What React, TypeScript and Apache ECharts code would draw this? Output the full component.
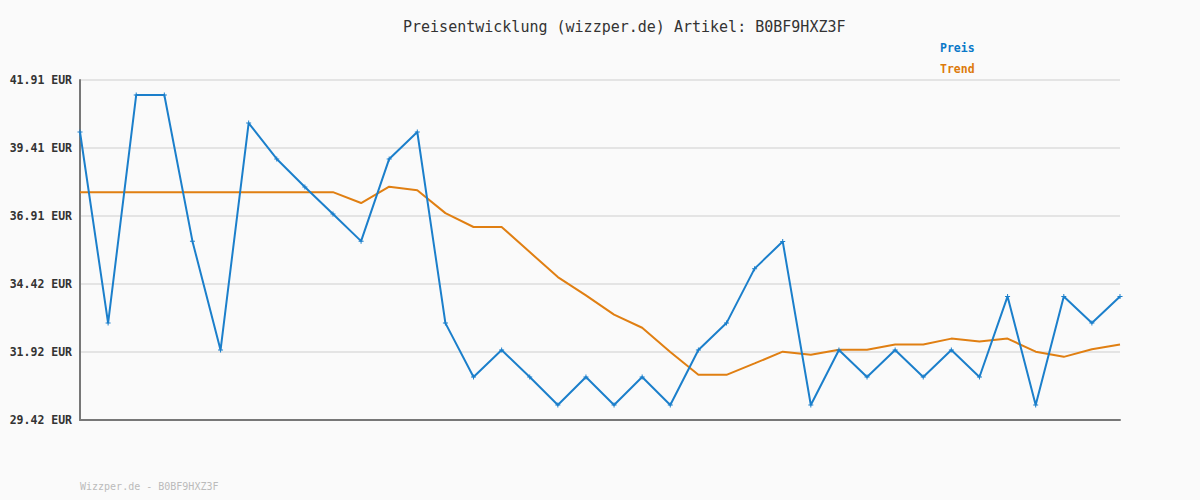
import React, { useEffect, useRef } from "react";
import * as echarts from "echarts";

const titleText = "Preisentwicklung (wizzper.de) Artikel: B0BF9HXZ3F";
const footerText = "Wizzper.de - B0BF9HXZ3F";
const seriesNames = ["Preis", "Trend"];
const axisMin = 29.42;
const axisMax = 41.91;
const tickCount = 5;

const preis = [
  40.0, 32.98, 41.36, 41.36, 35.99, 31.99, 40.33, 39.01, 37.98, 36.99,
  35.99, 39.01, 40.0, 32.98, 31.0, 31.99, 31.0, 29.97, 31.0, 29.97,
  31.0, 29.97, 31.99, 32.98, 34.98, 35.98, 29.97, 31.99, 31.0, 31.99,
  31.0, 31.99, 31.0, 33.96, 29.97, 33.96, 32.98, 33.96,
];

const trend = [
  37.79, 37.79, 37.79, 37.79, 37.79, 37.79, 37.79, 37.79, 37.79, 37.79,
  37.39, 37.99, 37.86, 37.02, 36.51, 36.51, 35.59, 34.67, 34.0, 33.29,
  32.81, 31.92, 31.08, 31.08, 31.5, 31.93, 31.82, 32.0, 32.0, 32.19,
  32.19, 32.41, 32.3, 32.41, 31.93, 31.74, 32.02, 32.19,
];

const categories = preis.map((_, i) => String(i + 1));

const MONO = "'DejaVu Sans Mono', monospace";
const BLUE = "#1b7fcb";
const ORANGE = "#e07f12";

export default function App() {
  const ref = useRef<HTMLDivElement>(null);

  useEffect(() => {
    if (!ref.current) return;
    const chart = echarts.init(ref.current, undefined, { renderer: "svg" });
    const span = axisMax - axisMin;
    const interval = span / tickCount;
    const shift = (arr: number[]) => arr.map((v) => +(v - axisMin).toFixed(4));

    chart.setOption({
      animation: false,
      backgroundColor: "#fafafa",
      title: {
        text: titleText,
        left: 403,
        top: 19,
        padding: 0,
        textStyle: {
          fontFamily: MONO,
          fontSize: 15,
          fontWeight: "normal",
          color: "#333333",
        },
      },
      legend: {
        orient: "vertical",
        left: 935,
        top: 41,
        padding: 0,
        icon: "none",
        itemWidth: 0,
        itemHeight: 14,
        itemGap: 8,
        selectedMode: false,
        textStyle: {
          fontFamily: MONO,
          fontSize: 11.5,
          fontWeight: "bold",
          padding: 0,
        },
        data: [
          { name: seriesNames[0], textStyle: { color: "#0a78c8" } },
          { name: seriesNames[1], textStyle: { color: "#dd7a0c" } },
        ],
      },
      grid: { left: 80, right: 80, top: 80, bottom: 80, containLabel: false },
      xAxis: {
        type: "category",
        data: categories,
        boundaryGap: false,
        axisLine: { show: true, lineStyle: { color: "#777777", width: 2 } },
        axisTick: { show: false },
        axisLabel: { show: false },
        splitLine: { show: false },
      },
      yAxis: {
        type: "value",
        min: 0,
        max: span,
        interval: interval,
        axisLine: { show: true, lineStyle: { color: "#777777", width: 2 } },
        axisTick: { show: false },
        axisLabel: {
          margin: 8,
          fontFamily: MONO,
          fontSize: 11.5,
          fontWeight: "bold",
          color: "#333333",
          formatter: (v: number) => (v + axisMin).toFixed(2) + " EUR",
        },
        splitLine: { show: true, lineStyle: { color: "#e4e4e4", width: 2 } },
      },
      series: [
        {
          name: seriesNames[0],
          type: "line",
          data: shift(preis),
          color: BLUE,
          lineStyle: { color: BLUE, width: 2 },
          symbol: "path://M2,0H3V2H5V3H3V5H2V3H0V2H2Z",
          symbolSize: 5,
          showSymbol: true,
          itemStyle: { color: BLUE },
          z: 3,
        },
        {
          name: seriesNames[1],
          type: "line",
          data: shift(trend),
          color: ORANGE,
          lineStyle: { color: ORANGE, width: 2 },
          symbol: "none",
          showSymbol: false,
          z: 2,
        },
      ],
      graphic: [
        {
          type: "text",
          left: 80,
          top: 481,
          style: {
            text: footerText,
            fontFamily: MONO,
            fontSize: 10,
            fill: "#bbbbbb",
          },
        },
      ],
    });

    return () => chart.dispose();
  }, []);

  return (
    <div
      ref={ref}
      style={{ position: "absolute", left: 0, top: 0, width: 1200, height: 500 }}
    />
  );
}
